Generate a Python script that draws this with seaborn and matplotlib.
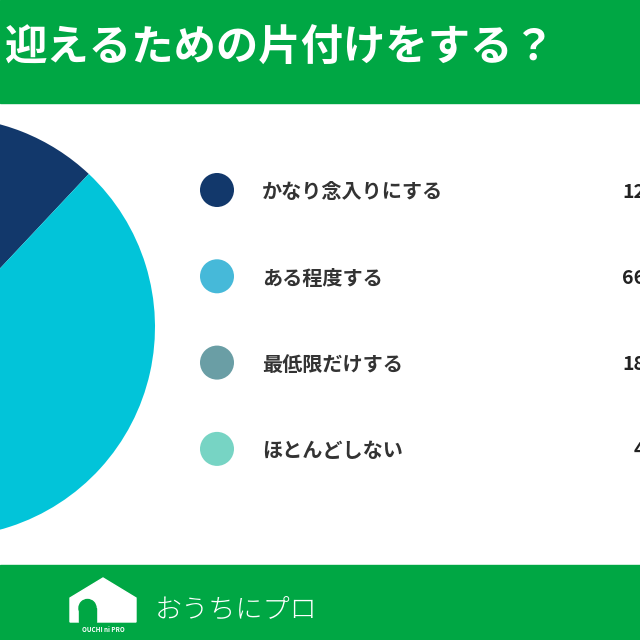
import numpy as np
import matplotlib.pyplot as plt
import matplotlib.patches as mpatches
import seaborn as sns
import pandas as pd

# values read from the (cropped) chart
labels = ['かなり念入りにする', 'ある程度する', '最低限だけする', 'ほとんどしない']
values = [12, 66, 18, 4]
value_text = ['12%', '66%', '18%', '4%']
pie_colors = ['#12386b', '#02c4d9', '#6a9ea5', '#77d4c4']
dot_colors = ['#12386b', '#46b9d9', '#6a9ea5', '#77d4c4']
title = '迎えるための片付けをする？'
brand = 'おうちにプロ'

GREEN = '#00a744'

sns.set_theme(style='white')
plt.rcParams['font.family'] = ['Noto Sans CJK JP', 'DejaVu Sans']

fig = plt.figure(figsize=(6.4, 6.4), dpi=100)
ax = fig.add_axes([0, 0, 1, 1])

# pie (left part cut off like the source crop)
ax.pie(values, colors=pie_colors, startangle=90, counterclock=False,
       center=(-55, 313), radius=210, wedgeprops=dict(linewidth=0))

# header / footer bands
ax.add_patch(mpatches.Rectangle((0, 537), 640, 103, color=GREEN, zorder=1))
ax.add_patch(mpatches.Rectangle((0, 0), 640, 75, color=GREEN, zorder=1))
ax.text(4, 591, title, color='white', fontsize=30.5, fontweight='bold',
        va='center', ha='left', zorder=3)

# legend rows
df = pd.DataFrame({'label': labels, 'value': values})
df['x'] = 217
df['y'] = 450 - np.arange(len(df)) * 86.3
sns.scatterplot(data=df, x='x', y='y', hue='label', palette=dot_colors,
                s=600, linewidth=0, legend=False, ax=ax, zorder=4)
for i, row in df.iterrows():
    ax.text(262, row['y'] - 2, row['label'], fontsize=14.5, fontweight='bold',
            color='#333333', va='center', ha='left')
    ax.text(664, row['y'] - 2, value_text[i], fontsize=14, fontweight='bold',
            color='#222222', va='center', ha='right', clip_on=False)

# footer logo
house = mpatches.Polygon([(70, 18), (70, 42), (103, 62), (136, 42), (136, 18)],
                         closed=True, color='white', zorder=3)
ax.add_patch(house)
ax.add_patch(mpatches.Rectangle((79, 18), 17, 14, color=GREEN, zorder=4))
ax.add_patch(mpatches.Circle((87.5, 32), 8.5, color=GREEN, zorder=4))
ax.text(103, 11, 'OUCHI ni PRO', color='white', fontsize=4.5, fontweight='bold',
        ha='center', va='center', zorder=5)
ax.text(155, 30, brand, color='white', fontsize=19.5, fontweight='light',
        ha='left', va='center', zorder=3)

ax.set_xlim(0, 640)
ax.set_ylim(0, 640)
ax.set_aspect('auto')
ax.axis('off')

fig.savefig('out.png', dpi=100, facecolor='white')
